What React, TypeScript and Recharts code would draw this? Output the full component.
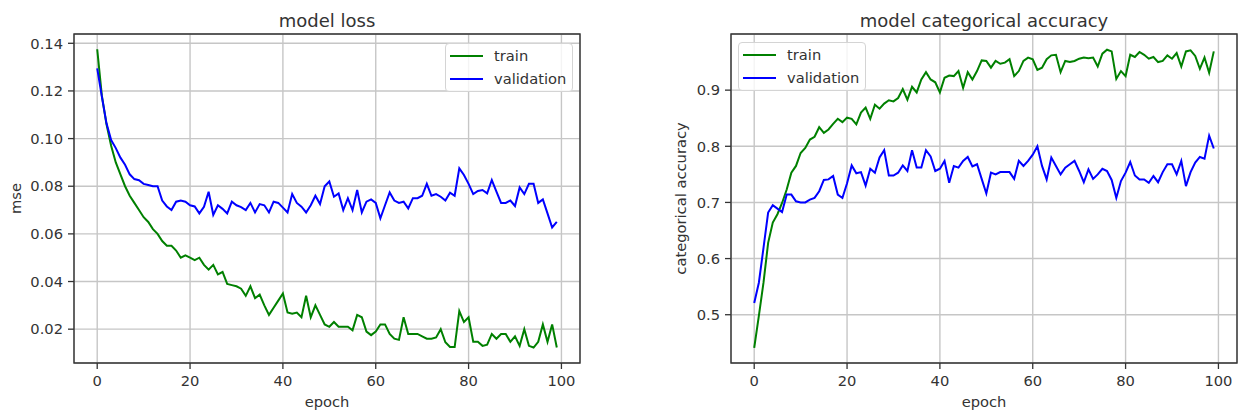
import React from "react";
import { LineChart, Line, XAxis, YAxis, CartesianGrid, Legend, ReferenceArea, Label } from "recharts";

// epochs 0..99
const epochs = [
  0, 1, 2, 3, 4, 5, 6, 7, 8, 9, 10, 11, 12, 13, 14, 15, 16, 17, 18, 19,
  20, 21, 22, 23, 24, 25, 26, 27, 28, 29, 30, 31, 32, 33, 34, 35, 36, 37, 38, 39,
  40, 41, 42, 43, 44, 45, 46, 47, 48, 49, 50, 51, 52, 53, 54, 55, 56, 57, 58, 59,
  60, 61, 62, 63, 64, 65, 66, 67, 68, 69, 70, 71, 72, 73, 74, 75, 76, 77, 78, 79,
  80, 81, 82, 83, 84, 85, 86, 87, 88, 89, 90, 91, 92, 93, 94, 95, 96, 97, 98, 99,
];

// model loss (mse)
const lossTrain = [
  0.1375, 0.118, 0.106, 0.097, 0.09, 0.085, 0.08, 0.076, 0.073, 0.07,
  0.067, 0.065, 0.062, 0.06, 0.057, 0.055, 0.055, 0.053, 0.05, 0.051,
  0.05, 0.049, 0.05, 0.047, 0.045, 0.047, 0.043, 0.044, 0.039, 0.0385,
  0.038, 0.037, 0.034, 0.038, 0.033, 0.0345, 0.03, 0.026, 0.029, 0.032,
  0.035, 0.027, 0.0265, 0.027, 0.025, 0.034, 0.025, 0.03, 0.026, 0.022,
  0.021, 0.023, 0.021, 0.021, 0.021, 0.0195, 0.026, 0.025, 0.019, 0.0175,
  0.019, 0.022, 0.022, 0.018, 0.016, 0.0155, 0.025, 0.018, 0.018, 0.018,
  0.017, 0.016, 0.016, 0.0165, 0.02, 0.0145, 0.0125, 0.0125, 0.0276, 0.023,
  0.025, 0.0147, 0.0147, 0.013, 0.0135, 0.018, 0.016, 0.018, 0.018, 0.0147,
  0.017, 0.013, 0.02, 0.013, 0.0123, 0.0147, 0.022, 0.0147, 0.022, 0.0123,
];
const lossVal = [
  0.1295, 0.1176, 0.1064, 0.0994, 0.096, 0.092, 0.089, 0.085, 0.083, 0.0825,
  0.081, 0.0805, 0.08, 0.08, 0.074, 0.0715, 0.07, 0.0735, 0.074, 0.0735,
  0.072, 0.0715, 0.0686, 0.0714, 0.0777, 0.068, 0.072, 0.0705, 0.0686, 0.0735,
  0.072, 0.0712, 0.07, 0.073, 0.069, 0.0725, 0.072, 0.069, 0.0735, 0.073,
  0.071, 0.069, 0.0767, 0.073, 0.0714, 0.069, 0.072, 0.076, 0.0725, 0.08,
  0.082, 0.0756, 0.077, 0.07, 0.075, 0.07, 0.0784, 0.069, 0.0735, 0.0745,
  0.073, 0.0665, 0.072, 0.0774, 0.074, 0.073, 0.0735, 0.0707, 0.075, 0.075,
  0.076, 0.081, 0.076, 0.0767, 0.0756, 0.074, 0.0773, 0.076, 0.0875, 0.0847,
  0.081, 0.0767, 0.078, 0.0784, 0.077, 0.0826, 0.0777, 0.073, 0.073, 0.074,
  0.0717, 0.0795, 0.0767, 0.081, 0.081, 0.073, 0.0745, 0.0686, 0.0627, 0.065,
];

// model categorical accuracy
const accTrain = [
  0.441, 0.498, 0.557, 0.628, 0.664, 0.679, 0.699, 0.723, 0.753, 0.765,
  0.788, 0.797, 0.812, 0.817, 0.834, 0.824, 0.83, 0.84, 0.849, 0.843,
  0.851, 0.849, 0.839, 0.86, 0.869, 0.849, 0.874, 0.867, 0.876, 0.882,
  0.88, 0.886, 0.902, 0.883, 0.906, 0.896, 0.919, 0.932, 0.919, 0.914,
  0.896, 0.922, 0.926, 0.925, 0.934, 0.904, 0.932, 0.919, 0.934, 0.953,
  0.952, 0.94, 0.952, 0.947, 0.949, 0.955, 0.925, 0.934, 0.952, 0.958,
  0.955, 0.936, 0.94, 0.955, 0.962, 0.963, 0.932, 0.952, 0.95, 0.952,
  0.956, 0.958, 0.957, 0.958, 0.942, 0.965, 0.972, 0.969, 0.92, 0.934,
  0.925, 0.963, 0.959, 0.968, 0.963, 0.956, 0.959, 0.95, 0.952, 0.962,
  0.956, 0.966, 0.942, 0.969, 0.971, 0.961, 0.938, 0.958, 0.931, 0.969,
];
const accVal = [
  0.521, 0.557, 0.619, 0.682, 0.695, 0.689, 0.683, 0.714, 0.714, 0.702,
  0.7, 0.7, 0.705, 0.708, 0.72, 0.74, 0.741, 0.747, 0.714, 0.708,
  0.734, 0.766, 0.752, 0.754, 0.73, 0.76, 0.753, 0.78, 0.793, 0.748,
  0.748, 0.753, 0.766, 0.756, 0.793, 0.762, 0.762, 0.793, 0.782, 0.756,
  0.76, 0.774, 0.735, 0.765, 0.762, 0.774, 0.781, 0.764, 0.768, 0.742,
  0.716, 0.753, 0.75, 0.754, 0.754, 0.754, 0.742, 0.774, 0.765, 0.774,
  0.785, 0.8, 0.765, 0.741, 0.78, 0.765, 0.75, 0.762, 0.768, 0.774,
  0.756, 0.736, 0.759, 0.742, 0.75, 0.76, 0.756, 0.74, 0.708, 0.738,
  0.753, 0.772, 0.748, 0.741, 0.741, 0.735, 0.747, 0.736, 0.754, 0.768,
  0.768, 0.75, 0.774, 0.729, 0.754, 0.771, 0.781, 0.778, 0.819, 0.796,
];

const epochTicks = [0, 20, 40, 60, 80, 100];
const lossTicks = [0.02, 0.04, 0.06, 0.08, 0.1, 0.12, 0.14];
const accTicks = [0.5, 0.6, 0.7, 0.8, 0.9];

const FONT = "'DejaVu Sans', sans-serif";
const TEXT = "#333";
const GREEN = "#008000";
const BLUE = "#0000ff";
const X_DOMAIN: [number, number] = [-5, 104];
const LOSS_DOMAIN: [number, number] = [0.0058, 0.1439];
const ACC_DOMAIN: [number, number] = [0.414, 1.0];

const lossData = epochs.map((e, i) => ({ epoch: e, train: lossTrain[i], validation: lossVal[i] }));
const accData = epochs.map((e, i) => ({ epoch: e, train: accTrain[i], validation: accVal[i] }));

const tickStyle = { fill: TEXT, fontSize: 14.7, fontFamily: FONT };

const LegendBox = ({ payload }: any) => (
  <div
    style={{
      boxSizing: "border-box",
      width: 128,
      height: 49,
      border: "1px solid #d4d4d4",
      borderRadius: 4,
      background: "rgba(255,255,255,0.8)",
      fontFamily: FONT,
      fontSize: 14.7,
      color: TEXT,
      position: "relative",
    }}
  >
    {(payload || []).map((p: any, i: number) => (
      <div
        key={i}
        style={{ position: "absolute", left: 0, top: 1 + i * 23.3, height: 22, display: "flex", alignItems: "center" }}
      >
        <span style={{ display: "inline-block", marginLeft: 4, width: 33, height: 2, background: p.color }} />
        <span style={{ marginLeft: 11, lineHeight: "22px", whiteSpace: "nowrap" }}>{p.value}</span>
      </div>
    ))}
  </div>
);

type PanelProps = {
  data: any[];
  width: number;
  yWidth: number;
  marginRight: number;
  yDomain: [number, number];
  yTicks: number[];
  digits: number;
  yLabel: string;
  yLabelOffset: number;
  legendLeft: number;
  legendTop: number;
};

const Panel = (p: PanelProps) => (
  <LineChart width={p.width} height={416} data={p.data} margin={{ top: 34, right: p.marginRight, bottom: 0, left: 0 }}>
    <CartesianGrid stroke="#c6c6c6" strokeWidth={1.4} />
    <XAxis
      dataKey="epoch"
      type="number"
      domain={X_DOMAIN}
      ticks={epochTicks}
      interval={0}
      allowDataOverflow
      height={53}
      axisLine={false}
      tickLine={{ stroke: TEXT, strokeWidth: 1.3 }}
      tickSize={6}
      tickMargin={7}
      tick={tickStyle}
    >
      <Label value="epoch" position="insideBottom" offset={9} fill={TEXT} fontSize={14.7} fontFamily={FONT} />
    </XAxis>
    <YAxis
      type="number"
      domain={p.yDomain}
      ticks={p.yTicks}
      interval={0}
      allowDataOverflow
      width={p.yWidth}
      axisLine={false}
      tickLine={{ stroke: TEXT, strokeWidth: 1.3 }}
      tickSize={6}
      tickMargin={5}
      tick={tickStyle}
      tickFormatter={(v: number) => v.toFixed(p.digits)}
    >
      <Label
        value={p.yLabel}
        angle={-90}
        position="insideLeft"
        offset={p.yLabelOffset}
        textAnchor="middle"
        fill={TEXT}
        fontSize={14.7}
        fontFamily={FONT}
      />
    </YAxis>
    <Line type="linear" dataKey="train" name="train" stroke={GREEN} strokeWidth={2} dot={false} isAnimationActive={false} />
    <Line type="linear" dataKey="validation" name="validation" stroke={BLUE} strokeWidth={2} dot={false} isAnimationActive={false} />
    <ReferenceArea
      x1={X_DOMAIN[0]}
      x2={X_DOMAIN[1]}
      y1={p.yDomain[0]}
      y2={p.yDomain[1]}
      fill="none"
      fillOpacity={0}
      stroke={TEXT}
      strokeWidth={1.4}
      ifOverflow="visible"
    />
    <Legend
      layout="horizontal"
      verticalAlign="middle"
      align="center"
      content={(props: any) => <LegendBox payload={props.payload} />}
      wrapperStyle={{ position: "absolute", left: p.legendLeft, top: p.legendTop, width: 128, height: 49 }}
    />
  </LineChart>
);

const titleStyle = (left: number, width: number): React.CSSProperties => ({
  position: "absolute",
  left,
  width,
  top: 12,
  textAlign: "center",
  fontFamily: FONT,
  fontSize: 18,
  lineHeight: "18px",
  color: TEXT,
  whiteSpace: "nowrap",
});

export default function App() {
  return (
    <div style={{ position: "absolute", left: 0, top: 0, width: 1239, height: 416, background: "#fff", overflow: "hidden" }}>
      <div style={{ position: "absolute", left: 0, top: 0 }}>
        <Panel
          data={lossData}
          width={620}
          yWidth={74}
          marginRight={40}
          yDomain={LOSS_DOMAIN}
          yTicks={lossTicks}
          digits={2}
          yLabel="mse"
          yLabelOffset={16}
          legendLeft={445}
          legendTop={43}
        />
      </div>
      <div style={titleStyle(74, 506)}>model loss</div>
      <div style={{ position: "absolute", left: 620, top: 0 }}>
        <Panel
          data={accData}
          width={619}
          yWidth={111}
          marginRight={2}
          yDomain={ACC_DOMAIN}
          yTicks={accTicks}
          digits={1}
          yLabel="categorical accuracy"
          yLabelOffset={61}
          legendLeft={118}
          legendTop={42}
        />
      </div>
      <div style={titleStyle(731, 506)}>model categorical accuracy</div>
    </div>
  );
}
